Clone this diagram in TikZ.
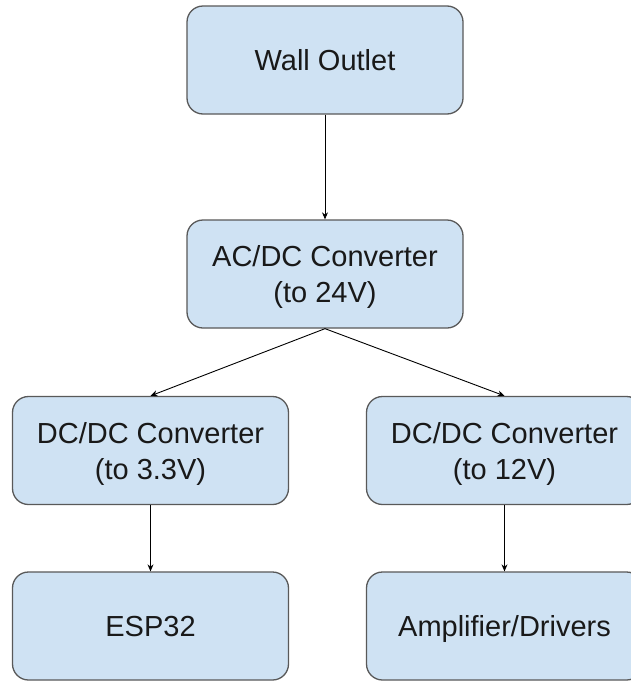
\documentclass[tikz,border=0pt]{standalone}
\usepackage{fontspec}
\setmainfont{Liberation Sans}
\usepackage{tikz}
\usetikzlibrary{arrows.meta}

\definecolor{boxfill}{HTML}{CFE2F3}
\definecolor{boxline}{HTML}{595959}

\tikzset{
    block/.style={draw=boxline, fill=boxfill, line width=1.3pt, rounded corners=16pt,
        minimum width=276pt, minimum height=108pt, align=center, inner sep=0pt,
        text depth=0pt, font=\fontsize{29}{36}\selectfont, text=black!90},
    feed/.style={draw=black, line width=0.9pt, -{Stealth[length=7pt,width=6pt]}}
}

\begin{document}
\begin{tikzpicture}[x=1pt, y=-1pt]
    \clip (0,0) rectangle (631,683);
    \fill[white] (0,0) rectangle (631,683);

    \node[block] (outlet) at (325,60) {Wall Outlet};
    \node[block] (acdc) at (325,274) {AC/DC Converter\\(to 24V)};
    \node[block] (dclow) at (150.5,450.5) {DC/DC Converter\\(to 3.3V)};
    \node[block] (dchigh) at (504.5,450.5) {DC/DC Converter\\(to 12V)};
    \node[block] (esp) at (150.5,626) {ESP32};
    \node[block] (amp) at (504.5,626) {Amplifier/Drivers};

    \draw[feed] (outlet.south) -- (acdc.north);
    \draw[feed] (acdc.south) -- (dclow.north);
    \draw[feed] (acdc.south) -- (dchigh.north);
    \draw[feed] (dclow.south) -- (esp.north);
    \draw[feed] (dchigh.south) -- (amp.north);
\end{tikzpicture}
\end{document}
